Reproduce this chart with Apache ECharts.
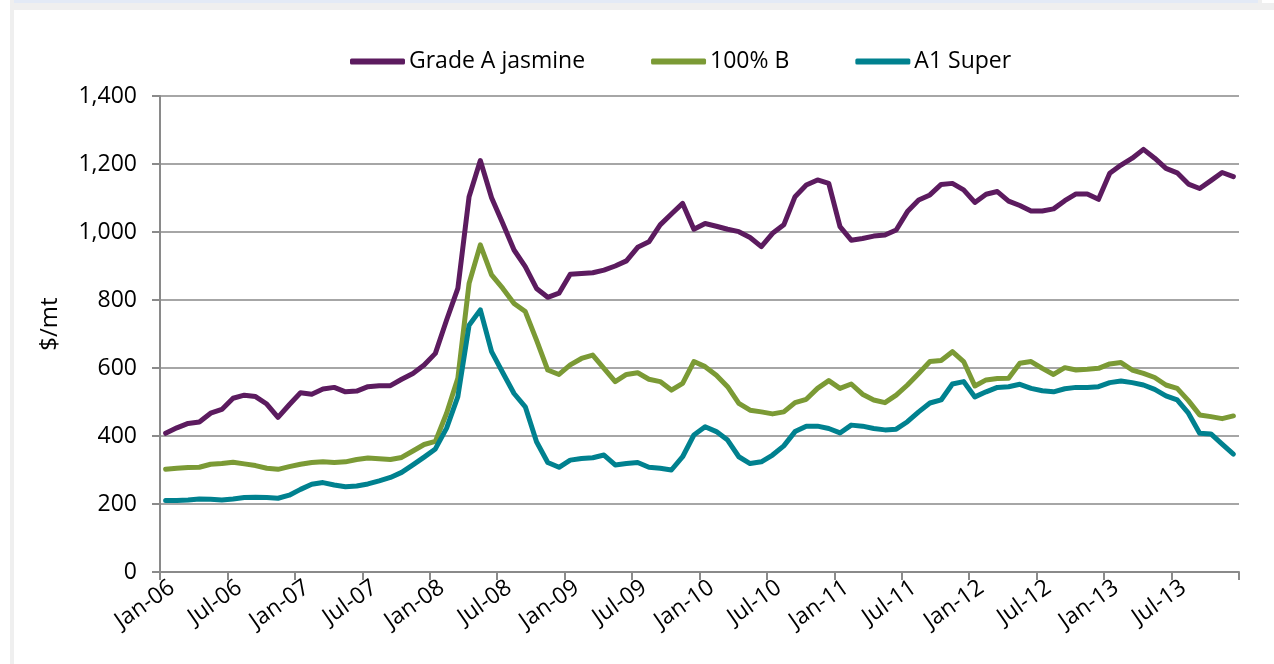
<!DOCTYPE html>
<html>
<head>
<meta charset="utf-8">
<script src="https://cdn.jsdelivr.net/npm/echarts@6/dist/echarts.min.js"></script>
<style>
  html, body { margin: 0; padding: 0; background: #fff; }
  #main { width: 1274px; height: 664px; }
</style>
</head>
<body>
<div id="main"></div>
<script>
// monthly prices, Jan-06 .. Dec-13 ($/mt)
var monthNames = ['Jan', 'Feb', 'Mar', 'Apr', 'May', 'Jun', 'Jul', 'Aug', 'Sep', 'Oct', 'Nov', 'Dec'];
var years = ['06', '07', '08', '09', '10', '11', '12', '13'];
var seriesNames = ['Grade A jasmine', '100% B', 'A1 Super'];

var jasmine = [
  408, 424, 437, 441, 467, 478, 511, 520, 516, 494, 455, 492,
  527, 523, 538, 543, 530, 532, 545, 548, 548, 567, 584, 609,
  643, 741, 834, 1104, 1210, 1101, 1025, 947, 898, 834, 808, 820,
  876, 878, 880, 888, 900, 915, 955, 971, 1021, 1053, 1084, 1008,
  1025, 1017, 1008, 1001, 984, 957, 996, 1021, 1104, 1138, 1153, 1143,
  1016, 976, 981, 988, 991, 1006, 1060, 1094, 1109, 1140, 1143, 1124,
  1087, 1111, 1119, 1091, 1078, 1062, 1062, 1068, 1092, 1112, 1112, 1096,
  1173, 1197, 1217, 1243, 1217, 1187, 1174, 1141, 1128, 1151, 1175, 1163
];
var hundredB = [
  302, 305, 307, 308, 317, 319, 323, 318, 313, 305, 302, 310,
  317, 322, 324, 322, 324, 331, 335, 333, 331, 337, 356, 375,
  384, 467, 570, 849, 962, 874, 834, 790, 766, 682, 594, 581,
  609, 628, 638, 599, 560, 581, 586, 567, 560, 535, 555, 619,
  604, 579, 545, 496, 476, 471, 465, 471, 498, 508, 540, 563,
  540, 553, 523, 506, 498, 520, 550, 584, 619, 622, 648, 619,
  547, 565, 569, 570, 614, 619, 599, 581, 601, 594, 596, 599,
  612, 616, 594, 584, 572, 550, 540, 504, 462, 457, 451, 459
];
var a1Super = [
  210, 210, 212, 215, 214, 212, 215, 219, 220, 219, 217, 226,
  243, 258, 263, 256, 251, 253, 259, 268, 278, 293, 315, 338,
  362, 423, 516, 726, 771, 648, 586, 525, 486, 383, 322, 308,
  329, 334, 336, 344, 315, 319, 322, 308, 305, 300, 339, 403,
  427, 413, 388, 339, 319, 324, 344, 371, 413, 429, 429, 422,
  409, 432, 429, 422, 418, 420, 442, 471, 497, 506, 553, 560,
  515, 530, 543, 545, 552, 540, 533, 530, 539, 543, 543, 545,
  557, 562, 557, 550, 537, 518, 506, 467, 408, 406, 376, 347
];

var categories = [];
years.forEach(function (y) {
  monthNames.forEach(function (m) { categories.push(m + '-' + y); });
});

var colors = ['#5c1b5f', '#7b9a35', '#00818f'];
var font = '"Open Sans", "Noto Sans", sans-serif';

var chart = echarts.init(document.getElementById('main'));

function lineSeries(name, data, color) {
  return {
    name: name,
    type: 'line',
    data: data,
    symbol: 'none',
    smooth: false,
    lineStyle: { color: color, width: 5, cap: 'round', join: 'round' },
    itemStyle: { color: color }
  };
}

chart.setOption({
  animation: false,
  backgroundColor: '#fff',
  color: colors,
  textStyle: { fontFamily: font, color: '#000' },
  graphic: [
    { type: 'rect', shape: { x: 14, y: 0, width: 1244, height: 4 }, style: { fill: '#e3eaf6' }, silent: true },
    { type: 'rect', shape: { x: 10, y: 3, width: 1264, height: 7 }, style: { fill: '#efefef' }, silent: true },
    { type: 'rect', shape: { x: 10, y: 0, width: 4, height: 664 }, style: { fill: '#efefef' }, silent: true },
    { type: 'rect', shape: { x: 1258, y: 0, width: 4, height: 10 }, style: { fill: '#efefef' }, silent: true }
  ],
  legend: {
    data: seriesNames,
    left: 345,
    top: 45,
    icon: 'roundRect',
    itemWidth: 55,
    itemHeight: 6,
    itemGap: 66,
    textStyle: { fontFamily: font, fontSize: 23, color: '#000', padding: [0, 0, 0, -1] }
  },
  grid: { left: 160, right: 35, top: 96, bottom: 92, containLabel: false, outerBoundsMode: 'none' },
  xAxis: {
    type: 'category',
    data: categories,
    boundaryGap: true,
    axisLine: { lineStyle: { color: '#8a8a8a', width: 2 } },
    axisTick: { show: true, interval: 5, length: 8, lineStyle: { color: '#8a8a8a', width: 2 } },
    axisLabel: {
      interval: 5, rotate: 35, margin: 18, fontSize: 23, color: '#000', fontFamily: font,
      padding: [0, -8, 0, 0]
    },
    splitLine: { show: false }
  },
  yAxis: {
    type: 'value',
    min: 0,
    max: 1400,
    interval: 200,
    name: '$/mt',
    nameLocation: 'middle',
    nameGap: 98,
    nameRotate: 90,
    nameTextStyle: { fontSize: 24, color: '#000', fontFamily: font, padding: [0, 0, 0, 20] },
    axisLine: { show: true, lineStyle: { color: '#8a8a8a', width: 2 } },
    axisTick: { show: true, length: 8, lineStyle: { color: '#8a8a8a', width: 2 } },
    axisLabel: {
      margin: 23,
      fontSize: 23,
      color: '#000',
      fontFamily: font,
      formatter: function (v) { return v.toLocaleString('en-US'); }
    },
    splitLine: { lineStyle: { color: '#a6a6a6', width: 2 } }
  },
  series: [
    lineSeries(seriesNames[0], jasmine, colors[0]),
    lineSeries(seriesNames[1], hundredB, colors[1]),
    lineSeries(seriesNames[2], a1Super, colors[2])
  ]
});
</script>
</body>
</html>
